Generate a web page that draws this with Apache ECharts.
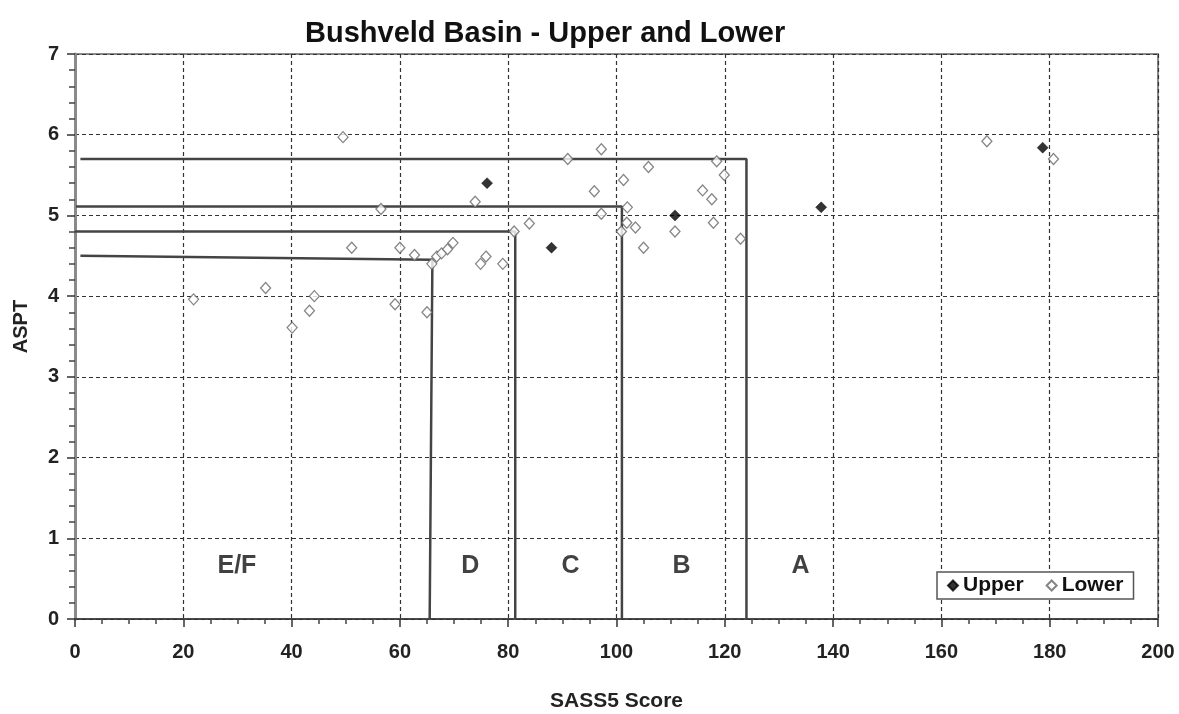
<!DOCTYPE html>
<html>
<head>
    <meta charset="utf-8">
    <title>Bushveld Basin</title>
    <script src="https://cdn.jsdelivr.net/npm/echarts@6/dist/echarts.min.js"></script>
    <style type="text/css">
        html, body {margin:0; padding:0; background-color:#fff;}
    </style>
</head>
<body>
<div id="container" style="width:1179px;height:714px;"></div>
<script type="text/javascript">
    // SASS5 score / ASPT pairs
    var upperPoints = [
        [76.1, 5.40], [88.0, 4.60], [110.8, 5.00], [137.8, 5.10], [178.7, 5.84]
    ];
    var lowerPoints = [
        [21.9, 3.96], [35.2, 4.10], [40.1, 3.61], [43.3, 3.82], [44.2, 4.00],
        [49.5, 5.97], [51.1, 4.60], [56.5, 5.08], [59.1, 3.90], [60.0, 4.60],
        [62.7, 4.51], [65.0, 3.80], [65.9, 4.40], [66.8, 4.49], [67.7, 4.53],
        [68.8, 4.58], [69.8, 4.66], [73.9, 5.17], [74.9, 4.40], [75.9, 4.49],
        [79.0, 4.40], [81.1, 4.80], [83.9, 4.90], [91.0, 5.70], [95.9, 5.30],
        [97.2, 5.82], [97.2, 5.02], [100.9, 4.80], [101.3, 5.44], [101.9, 4.91],
        [102.0, 5.10], [103.5, 4.85], [105.0, 4.60], [105.9, 5.60], [110.8, 4.80],
        [115.9, 5.31], [117.6, 5.20], [117.9, 4.91], [118.5, 5.67], [119.9, 5.50],
        [122.9, 4.71], [168.4, 5.92], [180.7, 5.70]
    ];

    // class boundaries (step lines)
    var boundA = [[1, 5.70], [124, 5.70], [124, 0]];
    var boundB = [[0.2, 5.11], [101, 5.11], [101, 0]];
    var boundC = [[0, 4.80], [81.3, 4.80], [81.3, 0]];
    var boundD = [[1, 4.50], [66, 4.45], [65.5, 0]];

    var classNames = ['E/F', 'D', 'C', 'B', 'A'];
    var classX = [29.9, 73, 91.5, 112, 134];
    var classY = 0.65;

    var xTicks = [0, 20, 40, 60, 80, 100, 120, 140, 160, 180, 200];
    var yTicks = [0, 1, 2, 3, 4, 5, 6, 7];

    var classData = [];
    for (var i = 0; i < classNames.length; i++) {
        classData.push({value: [classX[i], classY], name: classNames[i]});
    }

    var boundStyle = {color: '#444', width: 2.5};
    function boundSeries(d) {
        return {
            type: 'line', data: d, silent: true, symbol: 'none',
            lineStyle: boundStyle, z: 1, animation: false
        };
    }

    var chart = echarts.init(document.getElementById('container'));
    var option = {
        backgroundColor: '#fff',
        animation: false,
        textStyle: {fontFamily: 'Liberation Sans, Arial, sans-serif'},
        title: {
            text: 'Bushveld Basin - Upper and Lower',
            left: 300,
            top: 14,
            textStyle: {
                fontFamily: 'Liberation Sans, Arial',
                fontWeight: 'bold', fontSize: 29, color: '#111'
            }
        },
        grid: {
            left: 75, right: 21, top: 54, bottom: 95,
            outerBoundsMode: 'none',
            containLabel: false,
            show: true, borderColor: '#8a8a8a', borderWidth: 2,
            backgroundColor: '#fff'
        },
        legend: {
            data: ['Upper', 'Lower'],
            left: 937, top: 572,
            orient: 'horizontal',
            itemWidth: 10, itemHeight: 10, itemGap: 22,
            padding: [3, 10, 3, 10],
            borderColor: '#555', borderWidth: 1.5, borderRadius: 0,
            backgroundColor: '#fff',
            textStyle: {fontWeight: 'bold', fontSize: 21, color: '#111'}
        },
        xAxis: {
            type: 'value', min: 0, max: 200, interval: 20,
            name: 'SASS5 Score', nameLocation: 'middle', nameGap: 72,
            nameTextStyle: {fontWeight: 'bold', fontSize: 21, color: '#222'},
            axisLine: {show: true, onZero: false, lineStyle: {color: '#333', width: 1.5}},
            axisTick: {show: true, length: 8, lineStyle: {color: '#333', width: 1.5}},
            minorTick: {show: true, splitNumber: 4, length: 5, lineStyle: {color: '#444', width: 1.5}},
            axisLabel: {
                fontWeight: 'bold', fontSize: 20, color: '#222', margin: 23,
                customValues: xTicks
            },
            splitLine: {show: true, lineStyle: {color: '#333', width: 1.2, type: [4, 3]}}
        },
        yAxis: {
            type: 'value', min: 0, max: 7, interval: 1,
            name: 'ASPT', nameLocation: 'middle', nameGap: 44,
            nameTextStyle: {fontWeight: 'bold', fontSize: 20, color: '#222', padding: [0, 0, 0, 20]},
            axisLine: {show: true, onZero: false, lineStyle: {color: '#8a8a8a', width: 3}},
            axisTick: {show: true, length: 8, lineStyle: {color: '#333', width: 1.5}},
            minorTick: {show: true, splitNumber: 5, length: 6, lineStyle: {color: '#444', width: 1.5}},
            axisLabel: {
                fontWeight: 'bold', fontSize: 20, color: '#222', margin: 16,
                customValues: yTicks
            },
            splitLine: {show: true, lineStyle: {color: '#333', width: 1.2, type: [4, 3]}}
        },
        series: [
            boundSeries(boundA),
            boundSeries(boundB),
            boundSeries(boundC),
            boundSeries(boundD),
            {
                type: 'scatter', data: classData, symbolSize: 0, silent: true,
                label: {
                    show: true, position: 'inside', formatter: '{b}',
                    fontWeight: 'bold', fontSize: 25, color: '#111'
                }
            },
            {
                name: 'Lower', type: 'scatter', data: lowerPoints,
                symbol: 'diamond', symbolSize: [10, 11], z: 3,
                itemStyle: {color: '#fff', borderColor: '#666', borderWidth: 1.3}
            },
            {
                name: 'Upper', type: 'scatter', data: upperPoints,
                symbol: 'diamond', symbolSize: [11, 11], z: 4,
                itemStyle: {color: '#000', borderColor: '#000', borderWidth: 0.5}
            }
        ]
    };
    chart.setOption(option);
</script>
</body>
</html>
